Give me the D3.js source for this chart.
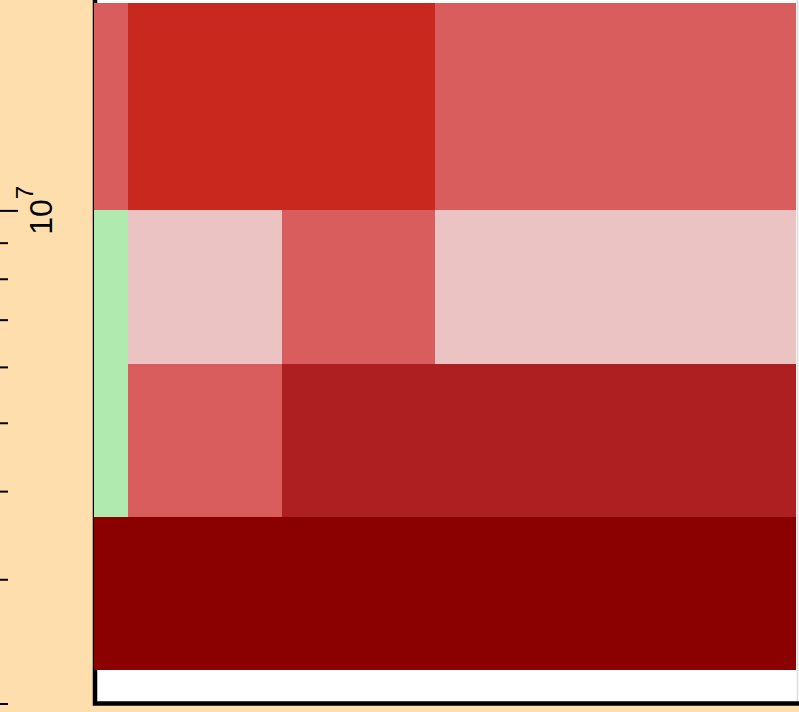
<!DOCTYPE html>
<html>
<head>
<meta charset="utf-8">
<script src="https://cdn.jsdelivr.net/npm/d3@7"></script>
<style>
  html, body { margin: 0; padding: 0; background: #FFDEAD; }
  svg { display: block; }
</style>
</head>
<body>
<svg id="chart"></svg>
<script>
// column edges (x units) and row edges (y values, log axis)
var colEdges = [-0.22, 0, 1.005, 2, 4.35]
var rowEdges = [2.23e6, 3.68e6, 6.05e6, 1e7, 1.97e7]

// colour level of every cell, rows listed bottom -> top
var cellLevels = [
    [5, 5, 5, 5],
    [0, 2, 4, 4],
    [0, 1, 2, 1],
    [2, 3, 3, 2]
]
var levelColors = ["#B0EAAE", "#EBC3C3", "#D95D5C", "#C9281F", "#AD1F20", "#8B0000"]

var yTicks = [2e6, 3e6, 4e6, 5e6, 6e6, 7e6, 8e6, 9e6, 1e7]
var majorTick = 1e7

var dimensions = {
    width: 799,
    height: 712,
    plotLeft: 95,
    plotBottom: 703.5
}

var svg = d3.select("#chart")
    .attr("width", dimensions.width)
    .attr("height", dimensions.height)

var xScale = d3.scaleLinear()
    .domain([colEdges[0], colEdges[colEdges.length - 1]])
    .range([94, 796])

var yScale = d3.scaleLog()
    .domain([2e6, 2e7])
    .range([dimensions.plotBottom, -2])

var color = d3.scaleOrdinal()
    .domain(d3.range(levelColors.length))
    .range(levelColors)

// panel background
svg.append("rect")
    .attr("x", dimensions.plotLeft)
    .attr("y", -10)
    .attr("width", 720)
    .attr("height", dimensions.plotBottom + 10)
    .attr("fill", "white")

svg.append("line")
    .attr("x1", 797.5).attr("x2", 797.5)
    .attr("y1", 0).attr("y2", 701)
    .attr("stroke", "#dcdcdc")
    .attr("stroke-width", 1.5)

// left + bottom border
svg.append("path")
    .attr("d", "M" + dimensions.plotLeft + ",-5V" + dimensions.plotBottom + "H810")
    .attr("fill", "none")
    .attr("stroke", "black")
    .attr("stroke-width", 4.5)

// cells
var cells = []
cellLevels.forEach(function(row, i){
    row.forEach(function(level, j){
        cells.push({
            x0: colEdges[j], x1: colEdges[j + 1],
            y0: rowEdges[i], y1: rowEdges[i + 1],
            level: level
        })
    })
})

svg.append("g")
    .selectAll("rect")
    .data(cells)
    .enter()
    .append("rect")
    .attr("x", d => xScale(d.x0))
    .attr("width", d => xScale(d.x1) - xScale(d.x0))
    .attr("y", d => yScale(d.y1))
    .attr("height", d => yScale(d.y0) - yScale(d.y1))
    .attr("fill", d => color(d.level))
    .attr("shape-rendering", "crispEdges")

// y axis ticks (cropped axis, only ticks visible)
var yAxisGen = d3.axisRight(yScale)
    .tickValues(yTicks)
    .tickSize(8)
    .tickFormat("")

var yAxis = svg.append("g")
    .attr("transform", "translate(0,0)")
    .call(yAxisGen)

yAxis.select(".domain").remove()
yAxis.selectAll(".tick line")
    .attr("stroke", "black")
    .attr("stroke-width", 2)
    .attr("x2", d => d === majorTick ? 18 : 8)

var label = svg.append("text")
    .attr("transform", "translate(52," + yScale(majorTick) + ") rotate(-90)")
    .attr("text-anchor", "middle")
    .style("font-family", "'Liberation Sans', Arial, sans-serif")
    .style("font-size", "32px")
    .attr("fill", "black")

label.append("tspan").text("10")
label.append("tspan")
    .attr("dy", -19)
    .style("font-size", "24px")
    .text("7")
</script>
</body>
</html>
